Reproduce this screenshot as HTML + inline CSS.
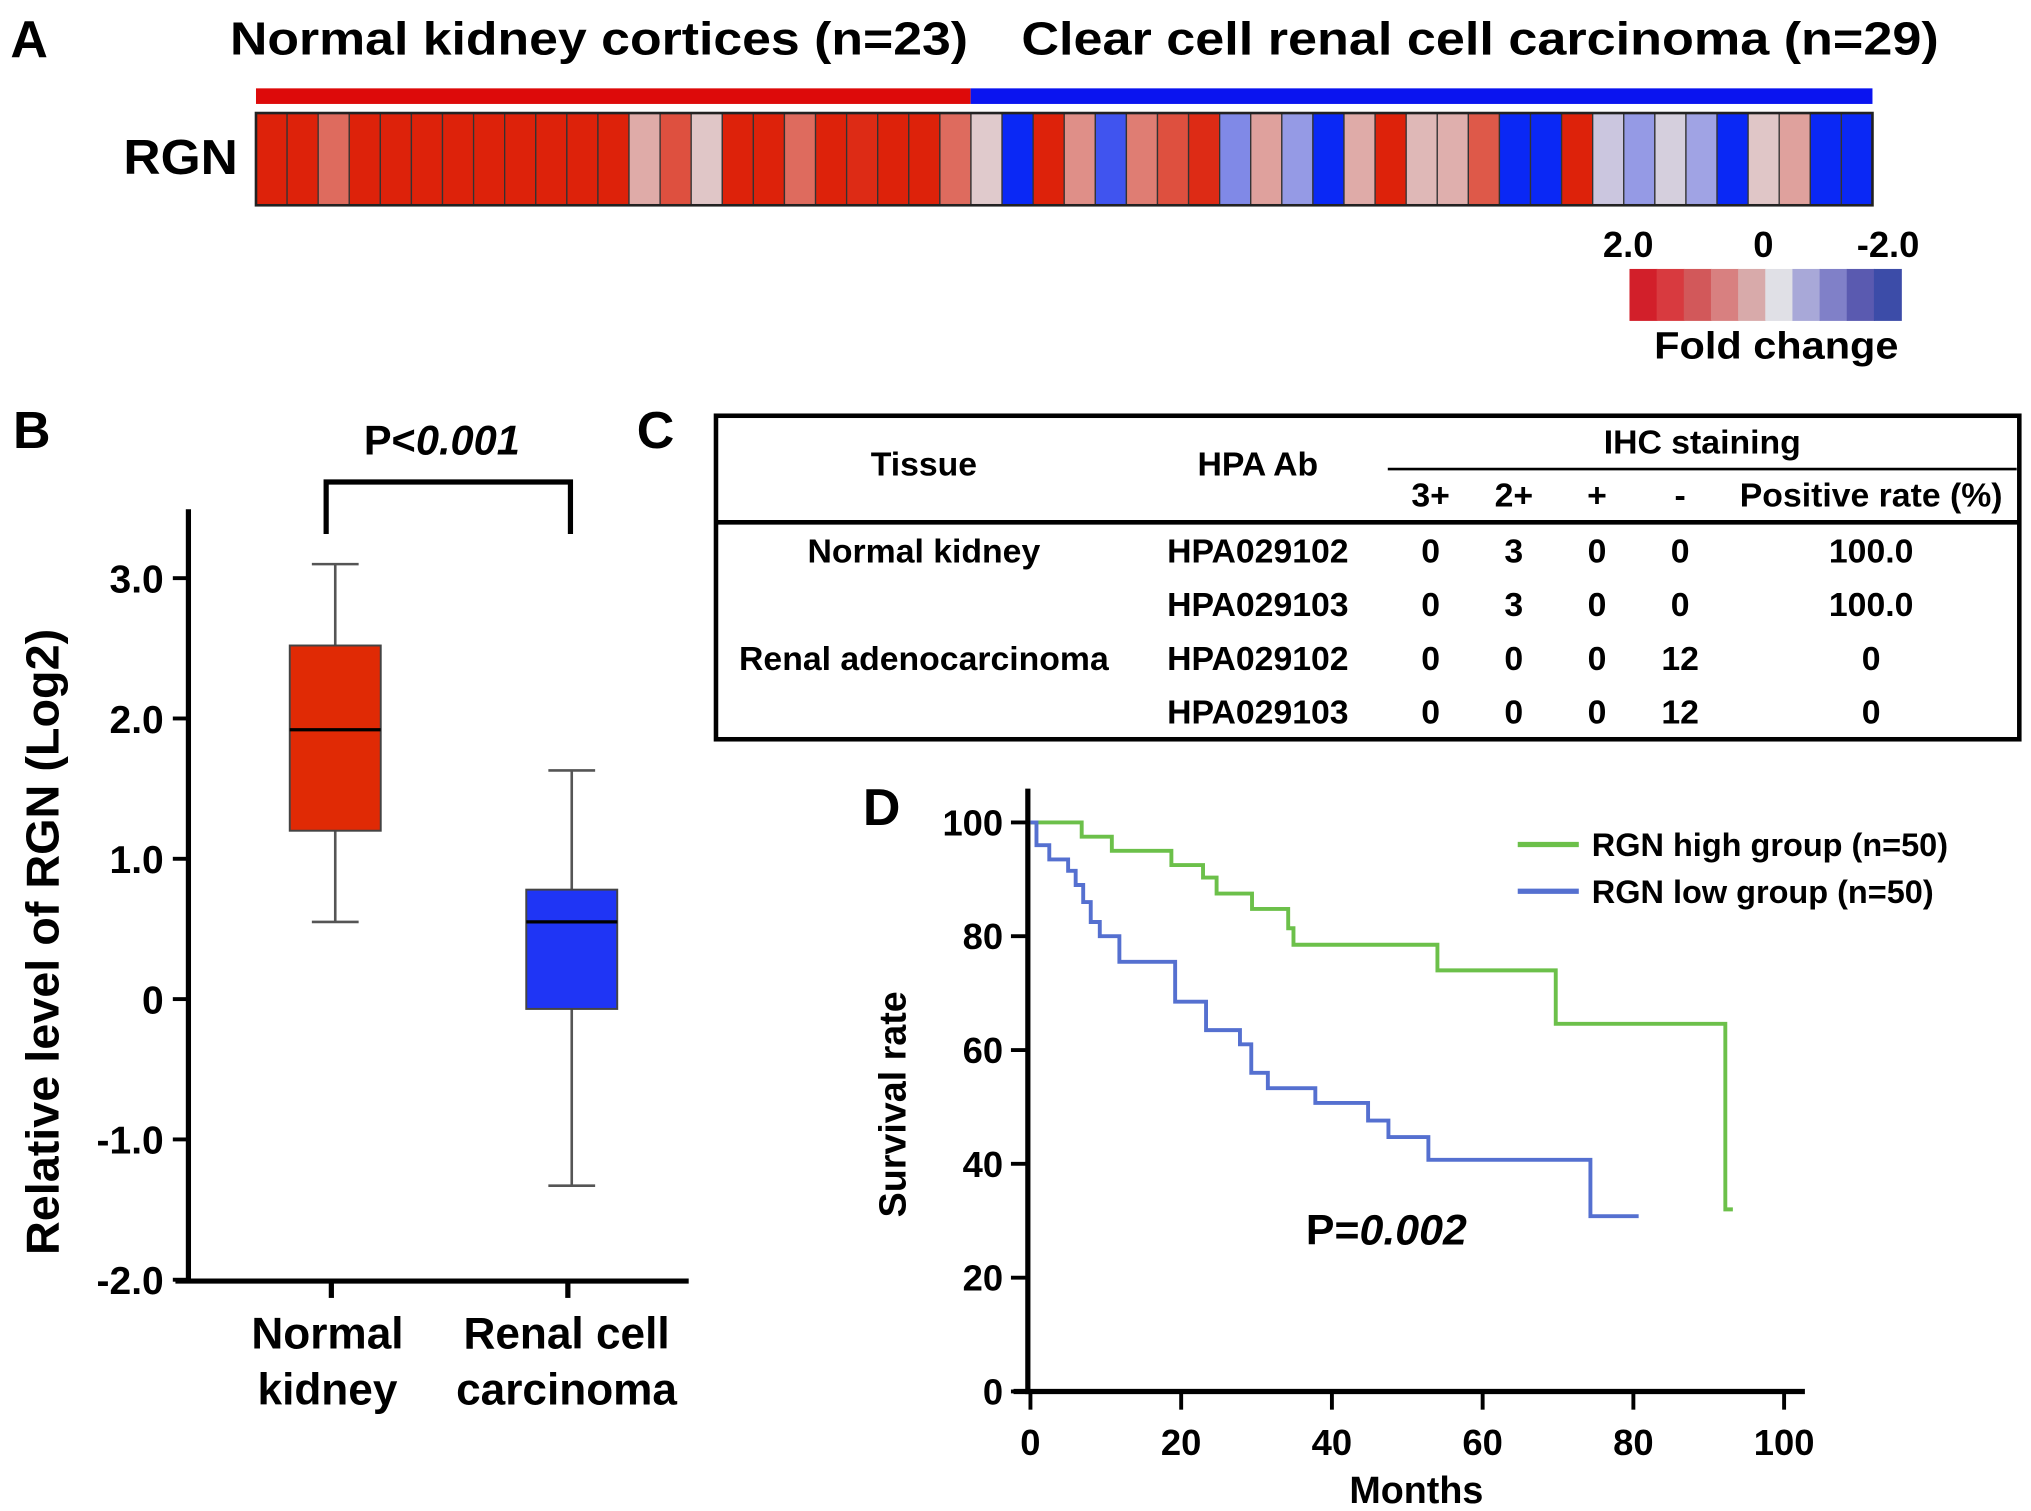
<!DOCTYPE html>
<html><head><meta charset="utf-8"><style>
html,body{margin:0;padding:0;background:#fff;}
svg{display:block;font-family:"Liberation Sans",sans-serif;font-weight:bold;}
</style></head><body>
<svg id="fig" width="2031" height="1511" viewBox="0 0 1563 1163" preserveAspectRatio="none" xmlns="http://www.w3.org/2000/svg">
<rect width="1563" height="1163" fill="#fff"/>
<text x="8" y="44" font-size="40">A</text>
<text x="177" y="42" font-size="36" textLength="568" lengthAdjust="spacingAndGlyphs">Normal kidney cortices (n=23)</text>
<text x="786" y="42" font-size="36" textLength="706" lengthAdjust="spacingAndGlyphs">Clear cell renal cell carcinoma (n=29)</text>
<rect x="197" y="68" width="550" height="12" fill="#dd0a0a"/>
<rect x="747" y="68" width="694" height="12" fill="#0a14f0"/>
<text x="95" y="134" font-size="38" textLength="88" lengthAdjust="spacingAndGlyphs">RGN</text>
<g id="heat"></g>
<text x="1253" y="198" font-size="28" text-anchor="middle">2.0</text>
<text x="1357" y="198" font-size="28" text-anchor="middle">0</text>
<text x="1453" y="198" font-size="28" text-anchor="middle">-2.0</text>
<g id="legbar"></g>
<text x="1367" y="276" font-size="29" text-anchor="middle" textLength="188" lengthAdjust="spacingAndGlyphs">Fold change</text>
<text x="10" y="345" font-size="40">B</text>
<g id="box"></g>
<text x="490" y="345" font-size="40">C</text>
<g id="tbl"></g>
<text x="664" y="635" font-size="40">D</text>
<g id="km"></g>
</svg>
<script>
const NS="http://www.w3.org/2000/svg";
function mk(parent,tag,attrs,txt){const e=document.createElementNS(NS,tag);for(const k in attrs)e.setAttribute(k,attrs[k]);if(txt!==undefined)e.textContent=txt;parent.appendChild(e);return e;}

const heatValues=[2,2,1.2,2,2,2,2,2,2,2,2,2,0.5,1.5,0.2,2,2,1.2,2,1.9,2,2,1.2,
0.15,-2,2,0.8,-1.5,1,1.5,1.9,-0.9,0.6,-0.7,-2,0.5,2,0.35,0.45,1.4,-2,-2,2,-0.2,-0.7,-0.1,-0.6,-2,0.2,0.6,-2,-2];
function heatColor(v){
  const w=[224,216,220];
  const r=[221,34,10], b=[10,40,245];
  const t=Math.min(1,Math.abs(v)/2), c=v>=0?r:b;
  return "rgb("+w.map((x,i)=>Math.round(x+(c[i]-x)*t)).join(",")+")";
}
const heat=document.getElementById('heat');
const hx0=197,hx1=1441,hy=87,hh=71,cw=(hx1-hx0)/heatValues.length;
heatValues.forEach((v,i)=>{
  const r=mk(heat,'rect',{x:hx0+i*cw,y:hy,width:cw,height:hh,fill:heatColor(v),stroke:'#333','stroke-width':1});
  
  
});
mk(heat,'rect',{x:hx0,y:hy,width:hx1-hx0,height:hh,fill:'none',stroke:'#222','stroke-width':2});
const legendColors=["#d21f2a","#d83a3f","#d2585a","#d88080","#d8aaaa","#e0e0e6","#a8a8d8","#8080c8","#5a5ab0","#3c4ca8","#3550a8"];
const lg=document.getElementById('legbar');
for(let i=0;i<10;i++){const r=mk(lg,'rect',{x:1254+i*20.9,y:207,width:21.5,height:40,fill:legendColors[i]});
  
  }

const boxGroups=["Normal kidney","Renal cell carcinoma"];
const boxMin=[0.55,-1.33], boxQ1=[1.2,-0.07], boxMed=[1.92,0.55], boxQ3=[2.52,0.78], boxMax=[3.1,1.63];
const boxColors=["#e02a05","#1f35f5"];
const yTicksB=[3,2,1,0,-1,-2], yTickLabelsB=["3.0","2.0","1.0","0","-1.0","-2.0"];
const bx=g=>[258,440][g];
const by=v=>769-v*108;
const box=document.getElementById('box');
mk(box,'line',{x1:145,y1:392,x2:145,y2:987,stroke:'#000','stroke-width':4});
mk(box,'line',{x1:135,y1:986,x2:530,y2:986,stroke:'#000','stroke-width':4});
yTicksB.forEach((t,i)=>{
  mk(box,'line',{x1:133,y1:by(t),x2:145,y2:by(t),stroke:'#000','stroke-width':3});
  const l=mk(box,'text',{x:126,y:by(t)+11,'font-size':30,'text-anchor':'end'},yTickLabelsB[i]);
  
  
});
const yl=mk(box,'text',{x:0,y:0,'font-size':36,'text-anchor':'middle',transform:'translate(45,725) rotate(-90)'},'Relative level of RGN (Log2)');


boxGroups.forEach((g,i)=>{
  const x=bx(i), w=70;
  mk(box,'line',{x1:x-3,y1:986,x2:x-3,y2:999,stroke:'#000','stroke-width':4});
  mk(box,'line',{x1:x,y1:by(boxMax[i]),x2:x,y2:by(boxMin[i]),stroke:'#555','stroke-width':2});
  mk(box,'line',{x1:x-18,y1:by(boxMax[i]),x2:x+18,y2:by(boxMax[i]),stroke:'#555','stroke-width':2});
  mk(box,'line',{x1:x-18,y1:by(boxMin[i]),x2:x+18,y2:by(boxMin[i]),stroke:'#555','stroke-width':2});
  const r=mk(box,'rect',{x:x-w/2,y:by(boxQ3[i]),width:w,height:by(boxQ1[i])-by(boxQ3[i]),fill:boxColors[i],stroke:'#444','stroke-width':1.5});
  
  
  mk(box,'line',{x1:x-w/2,y1:by(boxMed[i]),x2:x+w/2,y2:by(boxMed[i]),stroke:'#000','stroke-width':2.5});
  const words=i?["Renal cell","carcinoma"]:["Normal","kidney"];
  words.forEach((wd,j)=>{const t=mk(box,'text',{x:x-6+(i?2:0),y:1038+j*43,'font-size':34,'text-anchor':'middle'},wd);
    
    });
});
mk(box,'path',{d:'M251,411 V371 H439 V411',fill:'none',stroke:'#000','stroke-width':4});
const pb=mk(box,'text',{x:280,y:350,'font-size':32});


mk(pb,'tspan',{},'P<');mk(pb,'tspan',{'font-style':'italic'},'0.001');

const tbl=document.getElementById('tbl');
mk(tbl,'rect',{x:551,y:320,width:1003,height:249,fill:'none',stroke:'#000','stroke-width':3.5});
mk(tbl,'line',{x1:551,y1:402,x2:1554,y2:402,stroke:'#000','stroke-width':3.5});
mk(tbl,'line',{x1:1068,y1:361,x2:1552,y2:361,stroke:'#000','stroke-width':2});
const colX=[711,968,1101,1165,1229,1293,1440];
const head=[["Tissue",711,366],["HPA Ab",968,366],["IHC staining",1310,349],["3+",1101,390],["2+",1165,390],["+",1229,390],["-",1293,390],["Positive rate (%)",1440,390]];
head.forEach(h=>{const t=mk(tbl,'text',{x:h[1],y:h[2],'font-size':26,'text-anchor':'middle'},h[0]);
  
  });
const rows=[["Normal kidney","HPA029102","0","3","0","0","100.0"],["","HPA029103","0","3","0","0","100.0"],["Renal adenocarcinoma","HPA029102","0","0","0","12","0"],["","HPA029103","0","0","0","12","0"]];
rows.forEach((r,i)=>r.forEach((c,j)=>{if(!c)return;const t=mk(tbl,'text',{x:colX[j],y:433+i*41.3,'font-size':26,'text-anchor':'middle'},c);
  
  }));

const highTimes=[0,6.8,10.8,18.7,22.9,24.7,29.4,34.2,34.9,54,69.7,92.2];
const highSurv=[100,97.5,95,92.5,90.3,87.5,84.8,81.4,78.5,74,64.6,32];
const highEnd=93.2;
const lowTimes=[0,0.8,2.5,5,6,7,8,9.2,11.8,19.2,23.3,27.8,29.3,31.5,37.8,44.8,47.5,52.8,74.3];
const lowSurv=[100,96,93.5,91.5,89,86,82.5,80,75.5,68.5,63.5,61,56,53.3,50.7,47.6,44.7,40.7,30.8];
const lowEnd=80.7;
const xTicksD=[0,20,40,60,80,100], yTicksD=[0,20,40,60,80,100];
const kx=t=>793+t*5.8, ky=s=>1071-s*4.38;
const km=document.getElementById('km');
mk(km,'line',{x1:791,y1:607,x2:791,y2:1073,stroke:'#000','stroke-width':4});
mk(km,'line',{x1:780,y1:1071,x2:1389,y2:1071,stroke:'#000','stroke-width':4});
yTicksD.forEach(t=>{mk(km,'line',{x1:778,y1:ky(t),x2:791,y2:ky(t),stroke:'#000','stroke-width':3});
  const l=mk(km,'text',{x:772,y:ky(t)+10,'font-size':28,'text-anchor':'end'},String(t));
  
  });
xTicksD.forEach(t=>{mk(km,'line',{x1:kx(t),y1:1071,x2:kx(t),y2:1085,stroke:'#000','stroke-width':3});
  const l=mk(km,'text',{x:kx(t),y:1120,'font-size':28,'text-anchor':'middle'},String(t));
  
  });
const xt=mk(km,'text',{x:1090,y:1157,'font-size':29,'text-anchor':'middle'},'Months');


const yt=mk(km,'text',{x:0,y:0,'font-size':29,'text-anchor':'middle',transform:'translate(697,850) rotate(-90)'},'Survival rate');


function stepPath(ts,ss,end){let d='M'+kx(ts[0])+','+ky(ss[0]);for(let i=1;i<ts.length;i++){d+=' H'+kx(ts[i])+' V'+ky(ss[i]);}d+=' H'+kx(end);return d;}
const gl=mk(km,'path',{d:stepPath(highTimes,highSurv,highEnd),fill:'none',stroke:'#6cc04a','stroke-width':3});


const bl=mk(km,'path',{d:stepPath(lowTimes,lowSurv,lowEnd),fill:'none',stroke:'#5570d0','stroke-width':3});


[["RGN high group (n=50)","#6cc04a",650],["RGN low group (n=50)","#5570d0",686]].forEach(l=>{
  mk(km,'line',{x1:1168,y1:l[2],x2:1215,y2:l[2],stroke:l[1],'stroke-width':4});
  const t=mk(km,'text',{x:1225,y:l[2]+9,'font-size':25},l[0]);
  
  
});
const pd=mk(km,'text',{x:1005,y:958,'font-size':33});


mk(pd,'tspan',{},'P=');mk(pd,'tspan',{'font-style':'italic'},'0.002');
</script>
</body></html>
